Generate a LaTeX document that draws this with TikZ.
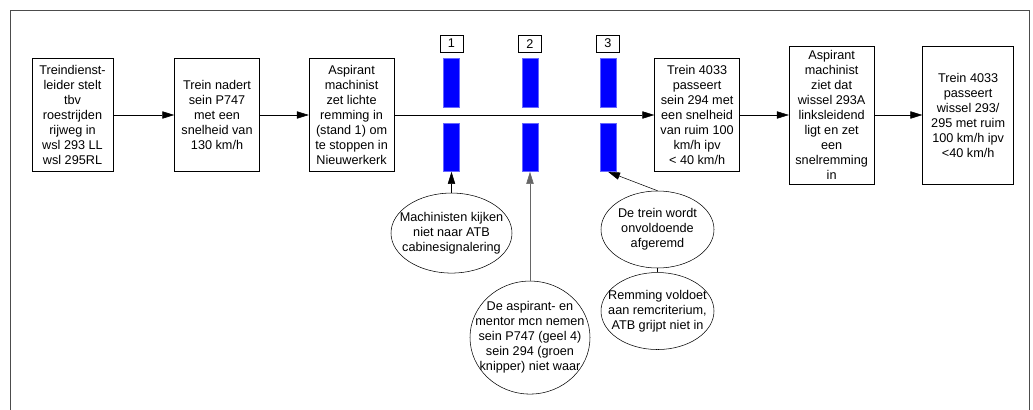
\documentclass[tikz,border=0pt]{standalone}
\usepackage{fontspec}
\setmainfont{Liberation Sans}
\usetikzlibrary{shapes.geometric, arrows.meta, positioning}

\begin{document}
\begin{tikzpicture}[
    x=0.75pt, y=-0.75pt,
    font=\fontsize{9.5}{11.25}\selectfont,
    box/.style={rectangle, draw, fill=white, minimum width=63.75pt, minimum height=84.75pt, inner ysep=1pt, align=center},
    bar/.style={rectangle, fill=blue, draw=blue!60!white, minimum width=12pt, minimum height=36.5pt, inner sep=0pt},
    tag/.style={rectangle, draw, minimum width=17.25pt, minimum height=12.75pt, inner sep=0pt},
    bubble/.style={ellipse, draw, inner sep=0pt},
    txt/.style={align=center, inner sep=0pt},
    arrow/.style={-{Triangle[length=9pt, width=5.5pt]}}
]
    \useasboundingbox (0,0) rectangle (1033,410);
    % Outer frame, open at the bottom
    \draw[black!70] (10,410) -- (10,10) -- (1029,10) -- (1029,410);

    % Event chain
    \node[box, minimum width=60.75pt] (treindienst) at (72.5,115) {Treindienst-\\leider stelt\\tbv\\roestrijden\\rijweg in\\wsl 293 LL\\wsl 295RL};
    \node[box, right=45.75pt of treindienst] (nadert) {Trein nadert\\sein P747\\met een\\snelheid van\\130 km/h};
    \node[box, right=36.75pt of nadert] (remming) {Aspirant\\machinist\\zet lichte\\remming in\\(stand 1) om\\te stoppen in\\Nieuwerkerk};
    \node[box, right=195pt of remming] (passeert) {Trein 4033\\passeert\\sein 294 met\\een snelheid\\van ruim 100\\km/h ipv\\< 40 km/h};
    \node[box, minimum height=103.5pt, right=36.75pt of passeert] (snelrem) {Aspirant\\machinist\\ziet dat\\wissel 293A\\linksleidend\\ligt en zet\\een\\snelremming\\in};
    \node[box, minimum width=68.25pt, minimum height=103.5pt, right=36pt of snelrem] (wissel) {Trein 4033\\passeert\\wissel 293/\\295 met ruim\\100 km/h ipv\\<40 km/h};

    % Barriers
    \foreach \i/\x in {1/451.5, 2/530, 3/608} {
        \node[bar] (bar\i u) at (\x,83) {};
        \node[bar, below=11.25pt of bar\i u] (bar\i l) {};
        \node[tag, above=4.5pt of bar\i u] (tag\i) {\i};
    }

    % Causes
    \node[bubble, minimum width=90.75pt, minimum height=60pt, below=15.75pt of bar1l,
        label={[txt]center:Machinisten kijken\\niet naar ATB\\cabinesignalering}] (kijken) {};
    \node[bubble, minimum width=90pt, minimum height=84.75pt, below=81.75pt of bar2l,
        label={[txt]center:De aspirant- en\\mentor mcn nemen\\sein P747 (geel 4)\\sein 294 (groen\\knipper) niet waar}] (waarnemen) {};
    \node[bubble, minimum width=84.75pt, minimum height=57.75pt,
        label={[txt]center:De trein wordt\\onvoldoende\\afgeremd}] (afgeremd) at (657.5,229.5) {};
    \node[bubble, minimum width=84.75pt, minimum height=57.75pt, below=3pt of afgeremd,
        label={[txt]center:{Remming voldoet\\aan remcriterium,\\ATB grijpt niet in}}] (criterium) {};

    % Chain arrows
    \draw[arrow] (treindienst) -- (nadert);
    \draw[arrow] (nadert) -- (remming);
    \draw[arrow] (remming) -- (passeert);
    \draw[arrow] (passeert) -- (snelrem);
    \draw[arrow] (snelrem) -- (wissel);

    % Cause arrows
    \draw[arrow] (kijken.north) -- (bar1l.south);
    \draw[arrow, black!60] (waarnemen.north) -- (bar2l.south);
    \draw[arrow] (afgeremd.north) -- (bar3l.south);
    \draw (criterium.north) -- (afgeremd.south);
\end{tikzpicture}
\end{document}
